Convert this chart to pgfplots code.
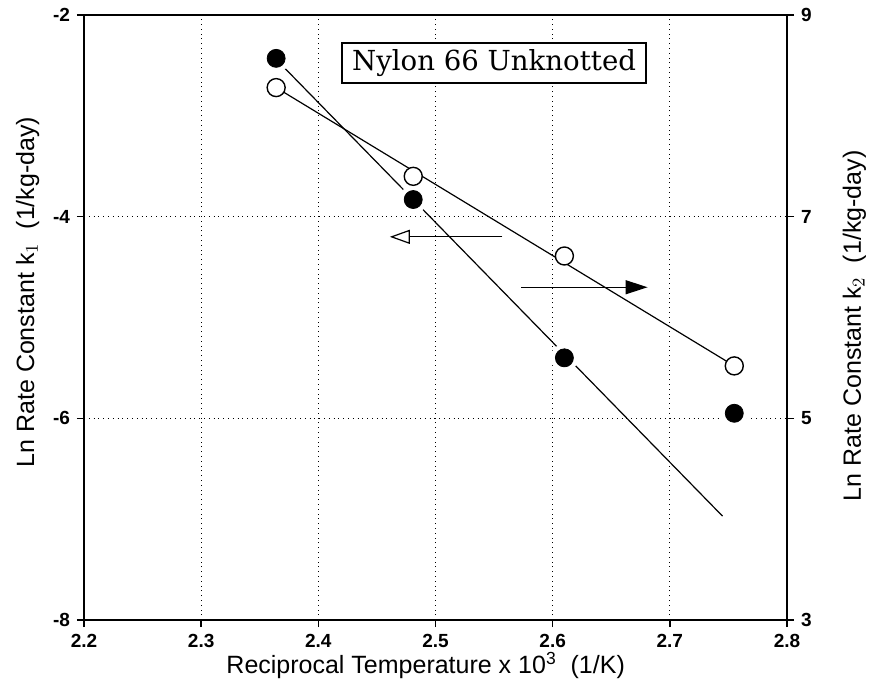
\documentclass[border=0pt]{standalone}
\usepackage{fontspec}
\setmainfont{Liberation Sans}
\newfontfamily\boxfont{DejaVu Serif}
\usepackage{pgfplots}
\pgfplotsset{compat=1.18}
\usetikzlibrary{arrows.meta}
\begin{document}
\begin{tikzpicture}
\pgfplotsset{
  common/.style={
    scale only axis, width=351.5pt, height=302.5pt,
    xmin=2.2, xmax=2.8,
    tick align=outside, major tick length=3.5pt,
    tick style={black, line width=0.8pt},
    /pgf/number format/assume math mode=true,
    ticklabel style={font=\bfseries\fontsize{9.5}{10}\selectfont},
  }
}
\begin{axis}[common,
  ymin=-8, ymax=-2,
  xtick={2.2,2.3,2.4,2.5,2.6,2.7,2.8},
  xticklabel style={/pgf/number format/.cd, fixed, fixed zerofill, precision=1},
  ytick={-8,-6,-4,-2},
  xtick pos=bottom, ytick pos=left,
  grid=major, grid style={black, dotted, line width=0.6pt},
  axis line style={black, line width=1.4pt},
  xlabel={Reciprocal Temperature x 10\textsuperscript{3}\ \ (1/K)},
  ylabel={Ln Rate Constant k$_1$\ \ (1/kg-day)},
  every axis x label/.style={at={(axis description cs:0.486,-0.0885)}, anchor=base, font=\fontsize{12.5}{14}\selectfont},
  every axis y label/.style={at={(axis description cs:-0.080,0.542)}, rotate=90, anchor=center, font=\fontsize{12.5}{14}\selectfont},
]
\coordinate (BL) at (rel axis cs:0,0);
\coordinate (TR) at (rel axis cs:1,1);
% fitted line for k1
\addplot[black, line width=0.6pt] coordinates {(2.364,-2.44) (2.745,-6.97)};
% white halo around filled marks
\addplot[only marks, mark=*, mark size=6.8pt, white, mark options={fill=white, draw=white}] coordinates {
(2.364,-2.43) (2.481,-3.83) (2.610,-5.40) (2.755,-5.95)};
% k1 data
\addplot[only marks, mark=*, mark size=4.5pt, black, mark options={fill=black}] coordinates {
(2.364,-2.43) (2.481,-3.83) (2.610,-5.40) (2.755,-5.95)};
\draw[line width=0.6pt, -{Triangle[open, length=10pt, width=7pt]}] (axis cs:2.557,-4.20) -- (axis cs:2.461,-4.20);
\draw[line width=0.6pt, -{Triangle[length=11pt, width=7pt]}] (axis cs:2.573,-4.70) -- (axis cs:2.681,-4.70);
\node[draw, line width=0.8pt, fill=white, font=\boxfont\fontsize{13.8}{15}\selectfont, inner xsep=5pt, minimum height=20pt] at (axis cs:2.550,-2.476) {Nylon 66 Unknotted};
\end{axis}
\begin{axis}[common,
  ymin=3, ymax=9,
  axis x line=none,
  axis y line*=right,
  axis line style={black, line width=1.1pt},
  ytick={3,5,7,9},
  ylabel={Ln Rate Constant k$_2$\ \ (1/kg-day)},
  every axis y label/.style={at={(axis description cs:1.096,0.486)}, rotate=90, anchor=center, font=\fontsize{12.5}{14}\selectfont},
]
\addplot[black, line width=0.6pt] coordinates {(2.364,8.28) (2.755,5.52)};
\addplot[only marks, mark=*, mark size=4.5pt, black, mark options={fill=white, line width=0.7pt}] coordinates {
(2.364,8.28) (2.481,7.40) (2.610,6.61) (2.755,5.52)};
\end{axis}
\pgfresetboundingbox
\path[use as bounding box] ([xshift=-42pt,yshift=-33pt]BL) rectangle ([xshift=43pt,yshift=7.5pt]TR);
\end{tikzpicture}
\end{document}
